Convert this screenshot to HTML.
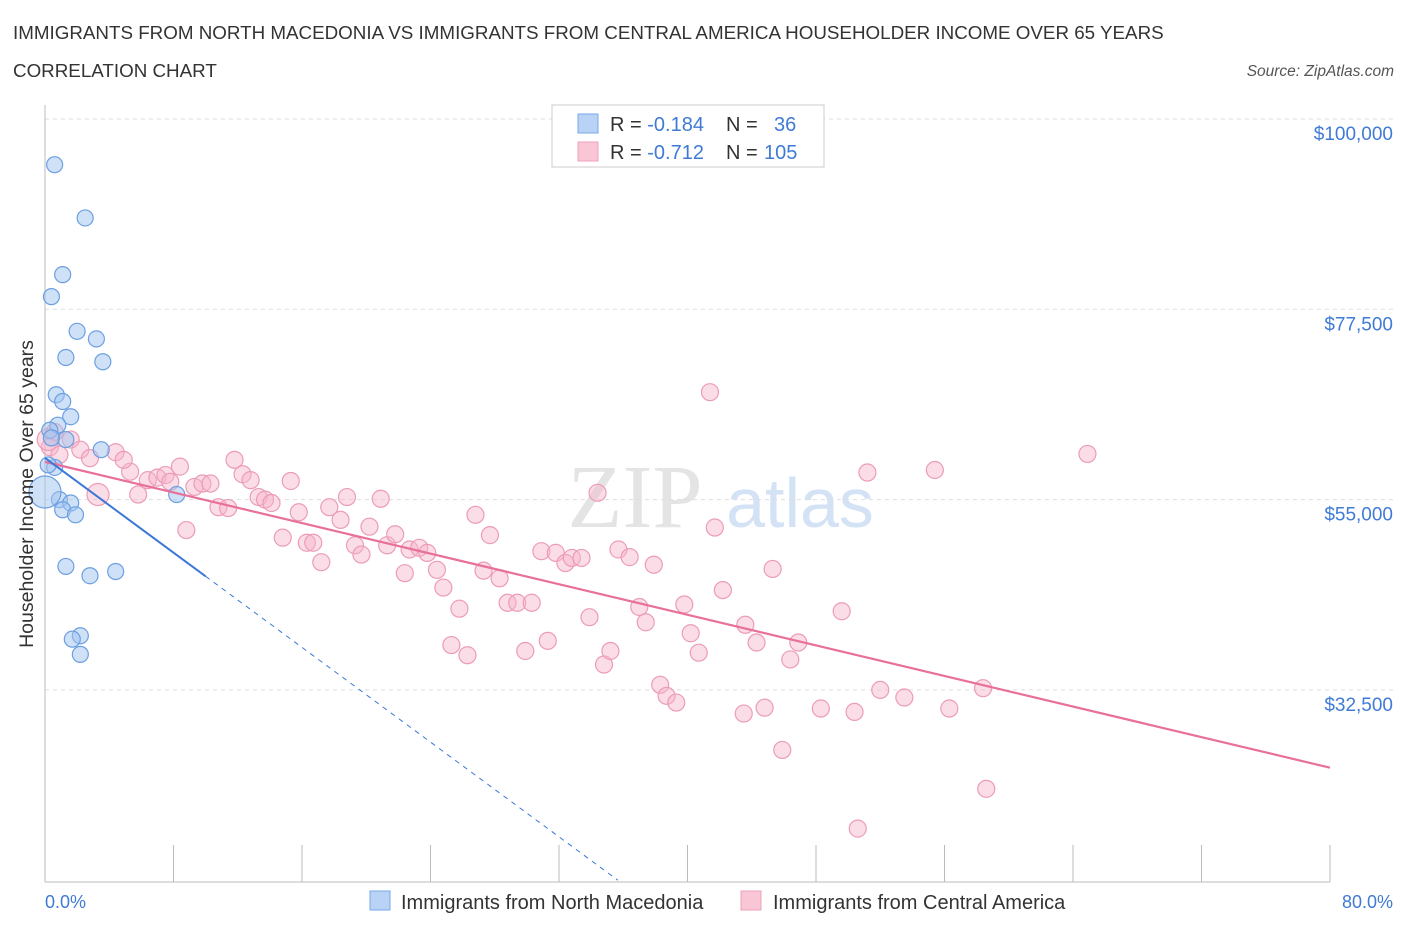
<!DOCTYPE html>
<html><head><meta charset="utf-8"><style>
body{margin:0;background:#fff;font-family:"Liberation Sans",sans-serif;}
</style></head><body>
<svg id="chart" width="1406" height="930" xmlns="http://www.w3.org/2000/svg">
<text x="13" y="39" font-size="18.8" fill="#333">IMMIGRANTS FROM NORTH MACEDONIA VS IMMIGRANTS FROM CENTRAL AMERICA HOUSEHOLDER INCOME OVER 65 YEARS</text>
<text x="13" y="77" font-size="18.8" fill="#333">CORRELATION CHART</text>
<text x="1394" y="76" font-size="15.5" fill="#555" font-style="italic" text-anchor="end">Source: ZipAtlas.com</text>
<text x="635" y="527" font-size="90" fill="#e4e4e4" font-family="Liberation Serif,serif" text-anchor="middle">ZIP</text>
<text x="800" y="527" font-size="70" fill="#d3e2f4" text-anchor="middle">atlas</text>
<g id="grid"></g><g id="axes"></g><g id="pts"></g><g id="lines"></g>
<text x="33" y="494" font-size="19.5" fill="#333" text-anchor="middle" transform="rotate(-90 33 494)">Householder Income Over 65 years</text>
<text x="45" y="908" font-size="18" fill="#3f7bd6">0.0%</text>
<text x="1393" y="908" font-size="18" fill="#3f7bd6" text-anchor="end">80.0%</text>
<g>
<rect x="552" y="105" width="272" height="62" fill="#fff" stroke="#ccc"/>
<rect x="578" y="114" width="20" height="19" fill="#b8d3f5" stroke="#7aa8e8"/>
<rect x="578" y="142" width="20" height="19" fill="#f9c6d6" stroke="#eea0b8"/>
<text x="610" y="131" font-size="20" fill="#333">R = <tspan fill="#3f7bd6">-0.184</tspan><tspan x="726">N =</tspan><tspan x="774" fill="#3f7bd6">36</tspan></text>
<text x="610" y="159" font-size="20" fill="#333">R = <tspan fill="#3f7bd6">-0.712</tspan><tspan x="726">N =</tspan><tspan x="764" fill="#3f7bd6">105</tspan></text>
</g>
<g>
<rect x="370" y="891" width="20" height="19" fill="#b8d3f5" stroke="#7aa8e8"/>
<text x="401" y="909" font-size="20" fill="#333">Immigrants from North Macedonia</text>
<rect x="741" y="891" width="20" height="19" fill="#f9c6d6" stroke="#eea0b8"/>
<text x="773" y="909" font-size="20" fill="#333">Immigrants from Central America</text>
</g>
</svg>
<script>
const yTicks=[100000,77500,55000,32500];
const yTickLabels=["$100,000","$77,500","$55,000","$32,500"];
const blueX=[0.6,2.5,1.1,0.4,2.0,3.2,1.3,3.6,0.7,1.1,1.6,0.8,0.3,1.3,0.4,3.5,0.6,0.2,0.9,1.6,1.1,1.9,8.2,1.3,2.8,4.4,2.2,1.7,2.2,0];
const blueY=[94600,88300,81600,79000,74900,74000,71800,71300,67400,66600,64800,63800,63200,62100,62300,60900,58800,59100,55000,54600,53800,53200,55600,47100,46000,46500,38900,38500,36700,55900];
const blueR=[8,8,8,8,8,8,8,8,8,8,8,8,8,8,8,8,8,8,8,8,8,8,8,8,8,8,8,8,8,16];
const pinkX=[0.3,0.9,1.6,2.2,2.8,4.4,3.3,5.3,4.9,5.8,6.4,7.0,7.5,8.4,7.8,8.8,9.3,9.8,10.3,10.8,11.4,11.8,12.3,12.8,13.3,13.7,14.1,14.8,15.3,15.8,16.3,16.7,17.2,17.7,18.4,18.8,19.3,19.7,20.2,20.9,21.3,21.8,22.4,22.7,23.3,23.8,24.4,24.8,25.3,25.8,26.3,26.8,27.3,27.7,28.3,28.8,29.4,29.9,30.3,30.9,31.3,31.8,32.4,32.8,33.4,33.9,34.4,34.8,35.2,35.7,36.4,37.0,37.4,37.9,38.3,38.7,39.3,39.8,40.2,40.7,41.4,41.7,42.2,43.5,43.6,44.3,44.8,45.3,45.9,46.4,46.9,48.3,49.6,50.4,51.2,52.0,53.5,55.4,56.3,58.4,58.6,50.6,64.9,0.6,0.2];
const pinkY=[61200,60300,62100,60900,59900,60600,55600,58300,59700,55600,57300,57600,57900,58900,57100,51400,56500,56900,56900,54100,54000,59700,58000,57300,55300,55000,54600,50500,57200,53500,49900,49900,47600,54100,52600,55300,49600,48500,51800,55100,49600,50900,46300,49100,49300,48700,46700,44600,37800,42100,36600,53200,46600,50800,45700,42800,42800,37100,42800,48900,38300,48700,47500,48100,48100,41100,55800,35500,37100,49100,48200,42300,40500,47300,33100,31800,31000,42600,39200,36900,67700,51700,44300,29700,40200,38100,30400,46800,25400,36100,38100,30300,41800,29900,58200,32500,31600,58500,30300,32700,20800,16100,60400,63000,62100];
const pinkBig=[6,104];
const blueFit=[59930,-1400];
const pinkFit=[59460,-452];
const X0=45,X1=1330,Y0=119,YS=190.3/22500;
const sx=p=>X0+(X1-X0)*p/80;
const sy=v=>Y0+(100000-v)*YS;
const NS="http://www.w3.org/2000/svg";
function mk(t,a,parent){const e=document.createElementNS(NS,t);for(const k in a)e.setAttribute(k,a[k]);document.getElementById(parent).appendChild(e);return e;}
yTicks.forEach((v,i)=>{
 const l=mk('line',{x1:X0,x2:1395,y1:sy(v),y2:sy(v),stroke:'#ddd','stroke-dasharray':'4,4'},'grid');
 
 
 const t=mk('text',{x:1393,y:sy(v)+21,'font-size':19,fill:'#3f7bd6','text-anchor':'end'},'grid');
 t.textContent=yTickLabels[i];
 
 
});
const ax=mk('line',{x1:X0,x2:X0,y1:105,y2:882,stroke:'#bbb'},'axes');


const bx=mk('line',{x1:X0,x2:X1,y1:882,y2:882,stroke:'#bbb'},'axes');


for(let p=0;p<=80;p+=8){const t=mk('line',{x1:sx(p),x2:sx(p),y1:845,y2:882,stroke:'#bbb'},'axes');
 
 }
pinkX.forEach((x,i)=>{const c=mk('circle',{cx:sx(x),cy:sy(pinkY[i]),r:pinkBig.includes(i)?11:8.5,fill:'rgba(246,180,201,0.45)',stroke:'#ec9cb7','stroke-width':1.2},'pts');
 
 });
blueX.forEach((x,i)=>{const c=mk('circle',{cx:sx(x),cy:sy(blueY[i]),r:blueR[i],fill:'rgba(160,195,240,0.5)',stroke:'#6c9fe2','stroke-width':1.2},'pts');
 
 });
const pl=mk('line',{x1:sx(0),y1:sy(pinkFit[0]),x2:sx(80),y2:sy(pinkFit[0]+pinkFit[1]*80),stroke:'#e8709a','stroke-width':2.2},'lines');


const bs=10;const xe=(10000-blueFit[0])/blueFit[1];
const b1=mk('line',{x1:sx(0),y1:sy(blueFit[0]),x2:sx(bs),y2:sy(blueFit[0]+blueFit[1]*bs),stroke:'#3a78d8','stroke-width':2},'lines');


const b2=mk('line',{x1:sx(bs),y1:sy(blueFit[0]+blueFit[1]*bs),x2:sx(xe),y2:sy(10000),stroke:'#3a78d8','stroke-width':1,'stroke-dasharray':'5,5'},'lines');


</script>
</body></html>
